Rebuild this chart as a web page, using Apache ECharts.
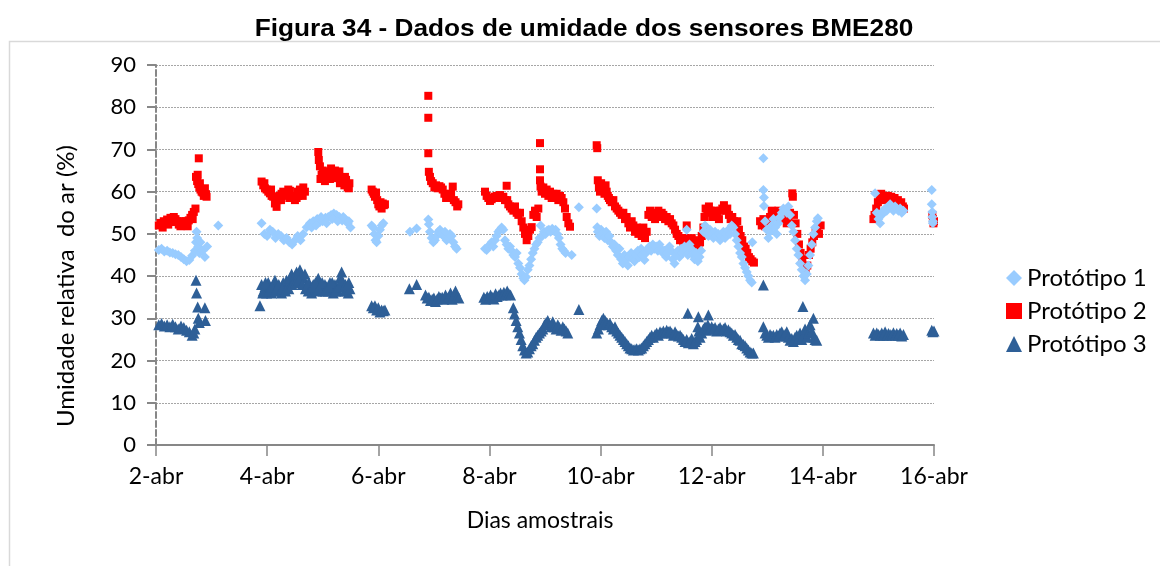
<!DOCTYPE html>
<html>
<head>
<meta charset="utf-8">
<script src="https://cdn.jsdelivr.net/npm/echarts/dist/echarts.min.js"></script>
<style>
  html, body { margin: 0; padding: 0; background: #ffffff; }
  #chart { width: 1160px; height: 566px; }
</style>
</head>
<body>
<div id="chart"></div>
<script>
// Relative humidity readings of the three BME280 prototypes: [day of April, RH %]
const seriesNames = ['Protótipo 1', 'Protótipo 2', 'Protótipo 3'];
const dayTicks = [2, 4, 6, 8, 10, 12, 14, 16];
const tickSuffix = '-abr';
const chartTitle = 'Figura 34 - Dados de umidade dos sensores BME280';
const xTitle = 'Dias amostrais';
const yTitle = 'Umidade relativa  do ar (%)';

const proto1 = [
  [2.05,46.2],[2.10,46.5],[2.15,45.8],[2.20,46.0],[2.25,45.6],[2.30,45.5],[2.35,45.2],[2.40,45.0],[2.45,44.5],[2.50,44.0],
  [2.55,43.5],[2.60,43.8],[2.65,44.8],[2.70,46.0],[2.72,48.0],[2.73,50.5],[2.74,49.0],[2.76,47.0],[2.78,45.5],[2.80,48.0],
  [2.84,46.0],[2.88,44.5],[2.92,47.0],[3.12,52.0],
  [3.90,52.5],[3.95,50.0],[4.00,49.5],[4.05,51.0],[4.10,50.5],[4.15,49.0],[4.20,50.0],[4.25,49.5],[4.30,48.5],[4.35,49.0],
  [4.40,48.0],[4.45,47.5],[4.50,48.5],[4.55,49.5],[4.60,48.5],[4.65,50.0],[4.71,51.6],[4.77,52.5],[4.83,53.0],[4.90,53.5],
  [4.95,52.8],[5.00,53.0],[5.05,53.8],[5.10,54.0],[5.15,54.5],[5.20,54.8],[5.25,54.5],[5.30,54.0],[5.35,53.2],[5.40,53.5],
  [5.45,52.5],[5.50,51.5],
  [4.80,51.5],[4.88,52.0],[4.97,54.0],[5.07,52.5],[5.17,53.5],[5.27,53.0],[5.37,54.0],[5.47,53.0],
  [5.88,52.0],[5.91,51.5],[5.93,50.0],[5.95,48.5],[5.97,48.0],[6.00,49.5],[6.03,51.0],[6.06,52.0],[6.09,52.5],
  [6.57,50.5],[6.69,51.3],
  [6.90,53.4],[6.91,52.3],[6.93,50.5],[6.96,49.0],[6.99,48.0],[7.02,48.5],[7.05,49.5],[7.08,50.5],[7.11,51.0],[7.14,50.0],
  [7.17,49.5],[7.20,50.5],[7.23,48.5],[7.26,49.0],[7.29,50.0],[7.32,49.5],[7.35,48.0],[7.38,47.0],[7.41,46.5],
  [7.92,46.5],[7.95,46.2],[7.98,47.0],[8.01,47.5],[8.04,48.0],[8.07,47.0],[8.10,48.5],[8.13,49.5],[8.16,50.5],[8.19,51.0],
  [8.22,51.5],[8.25,51.0],[8.28,48.5],[8.31,47.5],[8.34,46.5],[8.37,47.0],[8.40,46.0],[8.43,45.0],[8.46,44.5],[8.49,45.5],
  [8.52,43.0],[8.55,42.0],[8.58,40.5],[8.61,39.5],[8.63,39.0],[8.66,39.8],[8.69,41.5],[8.72,42.5],[8.75,44.0],[8.78,45.5],
  [8.81,46.5],[8.84,47.5],[8.87,48.0],[8.90,49.0],[8.92,52.0],[8.95,49.5],[8.98,50.5],[9.01,50.0],[9.04,50.8],[9.07,51.0],
  [9.10,50.5],[9.13,51.2],[9.16,50.8],[9.19,51.0],[9.22,50.0],[9.25,49.0],[9.28,47.5],[9.31,46.5],[9.34,46.0],[9.37,45.5],
  [9.48,45.0],[9.61,56.3],
  [9.93,56.0],[9.94,51.6],[9.95,50.5],[9.98,49.5],[10.01,51.0],[10.04,50.0],[10.07,49.0],[10.10,50.5],[10.13,48.5],[10.16,49.5],
  [10.19,48.0],[10.22,47.0],[10.25,47.5],[10.28,46.0],[10.31,45.0],[10.34,46.5],[10.37,44.0],[10.40,43.0],[10.43,45.0],[10.46,44.0],
  [10.49,42.5],[10.52,44.5],[10.55,45.5],[10.58,44.0],[10.61,43.5],[10.64,45.0],[10.67,46.0],[10.70,44.5],[10.73,46.5],[10.76,45.0],
  [10.79,43.8],[10.82,45.5],[10.85,46.5],[10.88,47.0],[10.91,46.0],[10.94,47.5],[10.97,46.5],[11.00,47.0],[11.03,46.0],[11.06,47.5],
  [11.09,46.5],[11.12,45.5],[11.15,46.0],[11.18,44.5],[11.21,45.5],[11.24,47.0],[11.27,46.0],[11.30,44.0],[11.33,43.0],[11.36,45.0],
  [11.39,46.0],[11.42,44.5],[11.45,46.5],[11.48,45.5],[11.51,47.0],[11.54,46.0],[11.55,51.0],[11.57,45.0],[11.60,47.5],[11.63,46.5],
  [11.66,45.0],[11.69,44.0],[11.72,45.5],[11.75,43.5],[11.78,44.5],[11.81,46.0],
  [11.85,50.5],[11.88,52.0],[11.91,50.0],[11.94,49.5],[11.97,51.0],[12.00,50.0],[12.03,49.0],[12.06,50.5],[12.09,49.5],[12.12,50.0],
  [12.15,48.5],[12.18,49.5],[12.21,50.5],[12.24,49.0],[12.27,50.0],[12.30,51.0],[12.33,50.0],[12.36,52.0],[12.39,51.5],[12.42,50.0],
  [12.45,48.5],[12.48,47.0],[12.51,45.5],[12.54,44.5],[12.57,43.0],[12.60,42.0],[12.63,41.0],[12.66,40.0],[12.69,39.0],[12.72,38.5],
  [12.73,48.0],
  [12.93,67.9],[12.93,60.4],[12.94,58.6],[12.94,56.6],[12.96,53.0],[12.99,51.0],[13.02,49.0],[13.05,50.5],[13.08,52.0],[13.11,53.5],
  [13.14,51.5],[13.17,50.0],[13.20,52.5],[13.23,54.0],[13.26,55.0],[13.29,56.0],[13.32,55.5],[13.35,55.0],[13.38,56.5],[13.41,54.5],
  [13.44,52.0],[13.47,50.5],[13.50,48.5],[13.53,46.5],[13.56,45.0],[13.59,43.0],[13.62,41.5],[13.65,40.0],[13.68,39.0],[13.71,40.5],
  [13.74,42.5],[13.77,45.0],[13.80,47.5],[13.83,50.0],[13.86,51.5],[13.89,53.0],[13.91,53.7],
  [14.94,59.6],[14.97,55.0],[15.00,53.5],[15.03,52.5],[15.06,54.5],[15.09,55.5],[15.12,56.0],[15.15,55.5],[15.18,56.5],[15.21,57.0],
  [15.24,56.5],[15.27,55.5],[15.30,56.5],[15.33,56.0],[15.36,55.5],[15.39,56.0],[15.42,55.0],[15.45,55.5],
  [15.96,60.4],[15.96,57.0],[15.97,55.2],[15.97,54.0],[15.98,53.0],[15.98,52.5]
];

const proto2 = [
  [2.05,52.0],[2.08,52.6],[2.11,52.2],[2.14,53.0],[2.17,52.5],[2.20,53.4],[2.23,53.0],[2.26,53.8],[2.29,53.2],[2.32,54.0],
  [2.35,53.5],[2.38,53.0],[2.41,52.2],[2.44,51.8],[2.47,52.6],[2.50,52.0],[2.53,53.0],[2.56,52.4],[2.59,53.2],[2.62,53.8],
  [2.65,54.5],[2.68,55.2],[2.71,56.0],[2.72,63.5],[2.74,62.5],[2.75,64.0],[2.76,61.8],[2.77,67.9],[2.78,61.0],[2.79,62.0],
  [2.80,60.5],[2.82,60.0],[2.84,59.8],[2.86,59.0],[2.88,60.8],[2.90,59.4],[2.91,58.8],
  [2.12,51.5],[2.22,52.2],[2.33,52.8],[2.45,53.0],[2.57,51.8],[2.66,53.5],
  [3.90,62.4],[3.93,61.5],[3.96,60.8],[3.99,60.5],[4.02,60.0],[4.05,59.6],[4.08,59.0],[4.11,58.8],[4.14,57.2],[4.17,56.4],
  [4.20,58.0],[4.23,59.0],[4.26,59.5],[4.29,60.0],[4.32,59.0],[4.35,59.5],[4.38,60.5],[4.41,60.2],[4.44,59.0],[4.47,58.5],
  [4.50,58.0],[4.53,58.5],[4.56,59.0],[4.59,60.5],[4.62,60.0],[4.65,61.0],[4.68,60.0],
  [3.95,62.0],[4.07,60.5],[4.25,58.0],[4.40,58.5],[4.55,60.0],[4.64,59.0],
  [4.92,69.4],[4.93,67.5],[4.95,66.0],[4.98,64.0],[5.00,65.0],[5.03,63.5],[5.06,64.5],[5.09,63.0],[5.12,64.8],[5.15,65.5],
  [5.18,64.0],[5.21,63.2],[5.24,64.5],[5.27,63.5],[5.30,64.8],[5.33,62.5],[5.36,63.0],[5.39,61.5],[5.42,62.8],[5.45,61.0],
  [5.48,62.0],
  [4.96,63.0],[5.04,62.5],[5.13,63.0],[5.22,65.0],[5.31,62.0],[5.40,63.5],[5.47,60.8],
  [5.88,60.5],[5.90,60.0],[5.92,59.5],[5.94,58.8],[5.96,59.8],[5.98,58.0],[6.00,57.0],[6.02,56.5],[6.04,57.5],[6.06,56.0],
  [6.08,57.2],[6.10,56.8],[6.12,57.0],
  [6.90,82.7],[6.90,77.5],[6.90,69.1],[6.91,64.7],[6.93,63.5],[6.95,62.5],[6.98,62.0],[7.01,61.0],[7.04,61.5],[7.07,60.8],
  [7.10,61.3],[7.13,61.0],[7.16,60.5],[7.19,59.5],[7.22,58.5],[7.25,59.2],[7.28,58.6],[7.31,59.5],[7.34,61.2],[7.36,58.0],
  [7.39,57.5],[7.42,56.5],[7.44,57.0],
  [7.92,60.0],[7.95,59.0],[7.98,58.5],[8.01,57.8],[8.04,58.2],[8.07,58.5],[8.10,58.8],[8.13,59.0],[8.16,58.5],[8.19,59.2],
  [8.22,58.6],[8.25,58.8],[8.28,58.0],[8.31,61.4],[8.32,58.0],[8.34,57.0],[8.37,56.5],[8.40,56.0],[8.43,55.5],[8.46,56.5],
  [8.49,55.0],[8.52,54.5],[8.55,55.0],[8.58,53.0],[8.61,51.5],[8.64,50.0],[8.67,48.5],[8.70,49.5],[8.73,51.0],[8.76,51.6],
  [8.79,54.5],[8.82,55.5],[8.85,54.0],[8.88,56.0],[8.91,71.5],[8.91,65.3],[8.91,62.7],[8.92,61.2],[8.94,60.0],[8.97,61.0],
  [9.00,59.5],[9.03,60.5],[9.06,59.0],[9.09,60.0],[9.12,58.5],[9.15,59.5],[9.18,58.8],[9.21,59.5],[9.24,58.0],[9.27,59.0],
  [9.30,58.5],[9.33,57.5],[9.36,56.0],[9.39,54.0],[9.42,52.5],[9.45,51.7],
  [9.93,71.0],[9.94,70.3],[9.95,62.7],[9.97,61.0],[9.99,60.0],[10.01,62.0],[10.03,61.0],[10.05,60.5],[10.07,59.5],[10.09,61.5],
  [10.11,60.0],[10.13,59.0],[10.15,58.5],[10.17,58.0],[10.20,57.5],[10.23,58.0],[10.26,56.5],[10.29,56.0],[10.32,55.5],[10.35,55.0],
  [10.38,54.5],[10.41,55.0],[10.44,53.5],[10.47,54.0],[10.50,52.5],[10.53,51.5],[10.56,53.0],[10.59,52.0],[10.62,50.5],[10.65,51.5],
  [10.68,50.0],[10.71,51.0],[10.74,49.5],[10.77,51.5],[10.80,49.0],[10.83,50.5],[10.86,54.5],[10.89,55.5],[10.92,54.0],[10.95,55.0],
  [10.98,53.5],[11.01,54.5],[11.04,55.5],[11.07,54.0],[11.10,55.0],[11.13,54.5],[11.16,53.5],[11.19,54.0],[11.22,53.0],[11.25,53.5],
  [11.28,52.5],[11.31,52.0],[11.34,51.0],[11.37,50.0],[11.40,49.5],[11.43,48.5],[11.46,49.0],[11.49,48.0],[11.52,49.0],[11.55,52.0],
  [11.58,48.5],[11.61,47.5],[11.64,49.0],[11.67,48.0],[11.70,47.5],[11.73,48.5],[11.76,47.0],[11.79,48.0],[11.82,49.5],[11.85,51.5],
  [11.87,54.0],[11.89,56.0],[11.92,55.0],[11.95,56.5],[11.98,55.5],[12.01,54.0],[12.04,55.5],[12.07,55.0],[12.10,54.5],[12.13,53.5],
  [12.16,55.5],[12.19,56.0],[12.22,56.8],[12.25,55.5],[12.28,56.0],[12.31,54.5],[12.34,53.5],[12.37,54.0],[12.40,53.0],[12.43,52.5],
  [12.46,53.0],[12.49,51.0],[12.52,49.5],[12.55,48.5],[12.58,47.0],[12.61,46.5],[12.64,45.5],[12.67,44.5],[12.70,44.0],[12.73,43.5],
  [12.76,43.2],
  [12.87,53.0],[12.90,52.0],[12.93,53.5],[12.96,51.8],[12.99,52.5],[13.02,53.0],[13.05,54.0],[13.08,55.5],[13.11,54.5],[13.14,55.0],
  [13.17,54.0],[13.20,55.5],[13.23,54.5],[13.26,55.0],[13.29,54.0],[13.32,53.5],[13.35,52.5],[13.38,53.5],[13.41,55.0],[13.45,59.6],
  [13.46,58.8],[13.48,54.5],[13.51,52.5],[13.54,50.0],[13.57,47.5],[13.60,45.5],[13.63,44.0],[13.66,42.0],[13.69,41.5],[13.72,42.5],
  [13.75,45.0],[13.78,46.5],[13.81,48.0],[13.84,49.5],[13.87,50.5],[13.90,51.0],[13.93,50.0],[13.96,52.0],
  [14.91,53.5],[14.93,54.5],[14.96,56.0],[14.99,57.5],[15.02,58.5],[15.05,59.5],[15.08,58.0],[15.11,59.0],[15.14,58.5],[15.17,59.0],
  [15.20,58.0],[15.23,58.8],[15.26,57.5],[15.29,58.5],[15.32,57.8],[15.35,58.0],[15.38,57.0],[15.41,57.5],[15.44,56.5],[15.46,56.0],
  [15.97,54.5],[15.98,53.5],[15.99,52.5],[16.00,53.0]
];

const proto3 = [
  [2.05,28.5],[2.10,28.8],[2.15,28.2],[2.20,28.5],[2.25,28.0],[2.30,28.6],[2.35,28.0],[2.40,27.5],[2.45,28.2],[2.50,27.8],
  [2.55,27.2],[2.60,26.8],[2.65,26.0],[2.68,26.5],[2.70,27.5],[2.72,39.0],[2.73,36.0],[2.75,32.7],[2.76,30.0],[2.78,29.0],
  [2.88,32.5],[2.89,29.5],
  [3.87,33.0],[3.90,38.0],[3.93,36.5],[3.96,37.5],[3.99,36.0],[4.02,38.5],[4.05,37.0],[4.08,36.0],[4.11,38.0],[4.14,39.0],
  [4.17,37.5],[4.20,36.5],[4.23,37.0],[4.26,36.0],[4.29,38.5],[4.32,37.5],[4.35,39.0],[4.38,38.0],[4.41,39.5],[4.44,40.5],
  [4.47,39.0],[4.50,40.0],[4.53,41.0],[4.56,40.5],[4.59,41.5],[4.62,40.0],[4.65,39.5],[4.68,40.5],[4.71,38.0],[4.74,36.5],
  [4.77,37.5],[4.80,36.0],[4.83,38.0],[4.86,37.0],[4.89,36.5],[4.92,39.5],[4.95,38.0],[4.98,37.0],[5.01,36.5],[5.04,38.0],
  [5.07,37.5],[5.10,36.5],[5.13,38.5],[5.16,37.0],[5.19,36.0],[5.22,38.0],[5.25,37.5],[5.28,36.5],[5.31,39.5],[5.34,41.0],
  [5.37,38.0],[5.40,36.5],[5.43,37.5],[5.46,36.0],[5.49,37.0],
  [3.92,36.0],[3.97,38.5],[4.03,36.5],[4.09,37.5],[4.15,36.5],[4.21,38.0],[4.27,37.0],[4.33,36.5],[4.39,37.0],[4.45,38.0],
  [4.51,38.5],[4.57,39.0],[4.63,38.0],[4.69,37.0],[4.75,38.5],[4.81,37.5],[4.87,38.5],[4.93,37.0],[4.99,38.5],[5.05,36.5],
  [5.11,37.5],[5.17,38.5],[5.23,36.5],[5.29,37.5],[5.35,39.0],[5.41,38.0],[5.47,38.5],
  [5.88,33.0],[5.91,32.5],[5.94,33.0],[5.97,32.0],[6.00,32.5],[6.03,31.5],[6.06,32.0],[6.09,31.8],[6.12,32.0],
  [6.56,37.0],[6.69,38.0],
  [6.85,35.5],[6.88,34.8],[6.91,35.0],[6.94,34.2],[6.97,34.5],[7.00,34.8],[7.03,34.0],[7.06,34.6],[7.09,35.2],[7.12,34.8],
  [7.15,35.0],[7.18,34.5],[7.21,35.5],[7.24,34.8],[7.27,35.0],[7.30,36.0],[7.33,34.5],[7.36,35.5],[7.39,36.5],[7.42,35.0],
  [7.45,34.8],
  [7.90,35.0],[7.93,34.5],[7.96,35.2],[7.99,34.8],[8.02,35.5],[8.05,35.0],[8.08,34.6],[8.11,35.8],[8.14,35.2],[8.17,35.5],
  [8.20,36.0],[8.23,35.5],[8.26,36.2],[8.29,35.6],[8.32,36.5],[8.35,35.8],[8.38,35.5],[8.43,32.5],[8.45,31.0],[8.48,29.5],
  [8.51,28.0],[8.54,26.5],[8.57,25.0],[8.60,23.5],[8.63,22.5],[8.66,21.8],[8.69,22.0],[8.72,22.8],[8.75,23.5],[8.78,24.0],
  [8.81,24.8],[8.84,25.5],[8.87,26.0],[8.90,26.5],[8.93,27.0],[8.96,27.5],[8.99,28.5],[9.02,29.0],[9.05,29.5],[9.08,28.5],
  [9.11,28.0],[9.14,29.2],[9.17,28.0],[9.20,27.5],[9.23,28.5],[9.26,27.8],[9.29,27.2],[9.32,28.0],[9.35,27.5],[9.38,27.0],
  [9.41,26.5],[9.61,32.1],
  [9.93,26.5],[9.96,27.5],[9.99,28.5],[10.02,29.5],[10.05,30.0],[10.08,29.5],[10.11,29.0],[10.14,28.5],[10.17,28.8],[10.20,28.0],
  [10.23,27.5],[10.26,28.0],[10.29,27.0],[10.32,26.5],[10.35,26.0],[10.38,25.5],[10.41,25.0],[10.44,24.5],[10.47,24.0],[10.50,23.5],
  [10.53,23.0],[10.56,22.8],[10.59,22.5],[10.62,22.6],[10.65,22.8],[10.68,22.5],[10.71,22.8],[10.74,23.0],[10.77,23.5],[10.80,24.0],
  [10.83,24.5],[10.86,25.0],[10.89,25.5],[10.92,26.0],[10.95,25.5],[10.98,26.2],[11.01,26.5],[11.04,26.0],[11.07,26.8],[11.10,26.5],
  [11.13,27.0],[11.16,26.5],[11.19,27.2],[11.22,26.8],[11.25,27.0],[11.28,26.5],[11.31,26.0],[11.34,26.8],[11.37,26.2],[11.40,25.8],
  [11.43,26.0],[11.46,25.5],[11.49,25.0],[11.52,24.5],[11.55,25.0],[11.57,31.2],[11.58,24.2],[11.61,24.5],[11.64,25.2],[11.67,24.0],
  [11.70,24.5],[11.73,25.0],[11.75,28.0],[11.76,30.4],[11.77,27.0],[11.79,25.5],[11.82,26.5],[11.85,27.5],[11.88,28.0],[11.91,27.2],
  [11.93,28.5],[11.94,30.8],[11.95,27.5],[11.97,27.5],[12.00,28.0],[12.03,27.5],[12.06,27.8],[12.09,27.0],[12.12,27.5],[12.15,27.8],
  [12.18,27.2],[12.21,27.5],[12.24,27.8],[12.27,27.0],[12.30,27.3],[12.33,26.8],[12.36,26.5],[12.39,26.0],[12.42,26.2],[12.45,25.5],
  [12.48,25.0],[12.51,24.8],[12.54,24.0],[12.57,23.8],[12.60,23.5],[12.63,23.0],[12.66,22.5],[12.69,22.0],[12.72,21.8],[12.75,21.8],
  [12.93,37.9],[12.93,28.0],[12.96,26.5],[12.99,26.0],[13.02,25.5],[13.05,26.2],[13.08,25.8],[13.11,26.0],[13.14,25.5],[13.17,26.2],
  [13.20,25.8],[13.23,26.5],[13.26,26.8],[13.29,25.8],[13.32,26.2],[13.35,26.8],[13.38,25.5],[13.41,24.8],[13.44,25.2],[13.47,24.5],
  [13.50,25.5],[13.53,26.0],[13.56,25.0],[13.59,26.5],[13.62,25.0],[13.64,32.8],[13.65,26.0],[13.68,27.5],[13.71,25.5],[13.74,26.5],
  [13.77,28.5],[13.80,27.0],[13.83,30.0],[13.84,25.5],[13.86,25.0],[13.89,24.8],
  [14.91,26.5],[14.94,26.0],[14.97,26.5],[15.00,26.2],[15.03,26.0],[15.06,26.5],[15.09,26.0],[15.12,26.8],[15.15,26.0],[15.18,26.4],
  [15.21,26.2],[15.24,26.0],[15.27,26.6],[15.30,26.0],[15.33,26.4],[15.36,26.0],[15.39,26.5],[15.42,25.8],[15.45,26.2],
  [15.96,27.2],[15.98,26.8],[16.00,27.0]
];

const axisGray = '#878787';
const textFont = 'Lato';

const chart = echarts.init(document.getElementById('chart'), null, { renderer: 'canvas' });

chart.setOption({
  animation: false,
  backgroundColor: '#ffffff',
  graphic: [
    {
      // outer chart frame
      type: 'rect',
      shape: { x: 9.5, y: 41.5, width: 1200, height: 600 },
      style: { fill: 'none', stroke: '#d9d9d9', lineWidth: 1.5 },
      silent: true
    },
    {
      type: 'text',
      x: 584, y: 30,
      scaleX: 1.14,
      style: {
        text: chartTitle, textAlign: 'center', textVerticalAlign: 'middle',
        fontFamily: 'Liberation Sans', fontWeight: 'bold', fontSize: 23, fill: '#000000'
      },
      silent: true
    },
    {
      type: 'text',
      x: 540, y: 521,
      style: {
        text: xTitle, textAlign: 'center', textVerticalAlign: 'middle',
        fontFamily: textFont, fontSize: 23, fill: '#000000'
      },
      silent: true
    },
    {
      type: 'text',
      x: 66, y: 286,
      rotation: Math.PI / 2,
      style: {
        text: yTitle, textAlign: 'center', textVerticalAlign: 'middle',
        fontFamily: textFont, fontSize: 24, fill: '#000000'
      },
      silent: true
    }
  ],
  legend: {
    orient: 'vertical',
    left: 1001,
    top: 261,
    itemWidth: 16,
    itemHeight: 16,
    itemGap: 9,
    textStyle: { fontFamily: textFont, fontSize: 24, color: '#000000' },
    data: [
      { name: seriesNames[0], icon: 'diamond' },
      { name: seriesNames[1], icon: 'rect' },
      { name: seriesNames[2], icon: 'triangle' }
    ]
  },
  grid: { left: 156, right: 226, top: 65, bottom: 121, containLabel: false },
  xAxis: {
    type: 'value',
    min: dayTicks[0],
    max: dayTicks[dayTicks.length - 1],
    interval: 2,
    axisLine: { show: true, onZero: false, lineStyle: { color: axisGray, width: 2 } },
    axisTick: { show: true, length: 11, lineStyle: { color: axisGray, width: 1.5 } },
    axisLabel: {
      fontFamily: textFont, fontSize: 23, color: '#000000', margin: 20,
      formatter: v => v + tickSuffix
    },
    splitLine: { show: false }
  },
  yAxis: {
    type: 'value',
    min: 0,
    max: 90,
    interval: 10,
    axisLine: { show: true, lineStyle: { color: axisGray, width: 2, type: [6, 3] } },
    axisTick: { show: true, length: 9, lineStyle: { color: axisGray, width: 2 } },
    axisLabel: { fontFamily: textFont, fontSize: 22, color: '#000000', margin: 20 },
    splitLine: { show: true, lineStyle: { color: '#a6a6a6', width: 1, type: [2, 1] } }
  },
  series: [
    {
      name: seriesNames[1], type: 'scatter', data: proto2, symbol: 'rect', symbolSize: 8,
      itemStyle: { color: '#ff0000', opacity: 1 }, z: 2
    },
    {
      name: seriesNames[0], type: 'scatter', data: proto1, symbol: 'diamond', symbolSize: 10,
      itemStyle: { color: '#99ccff', opacity: 1 }, z: 3
    },
    {
      name: seriesNames[2], type: 'scatter', data: proto3, symbol: 'triangle', symbolSize: 11,
      itemStyle: { color: '#2e5f97', opacity: 1 }, z: 2
    }
  ]
});
</script>
</body>
</html>
